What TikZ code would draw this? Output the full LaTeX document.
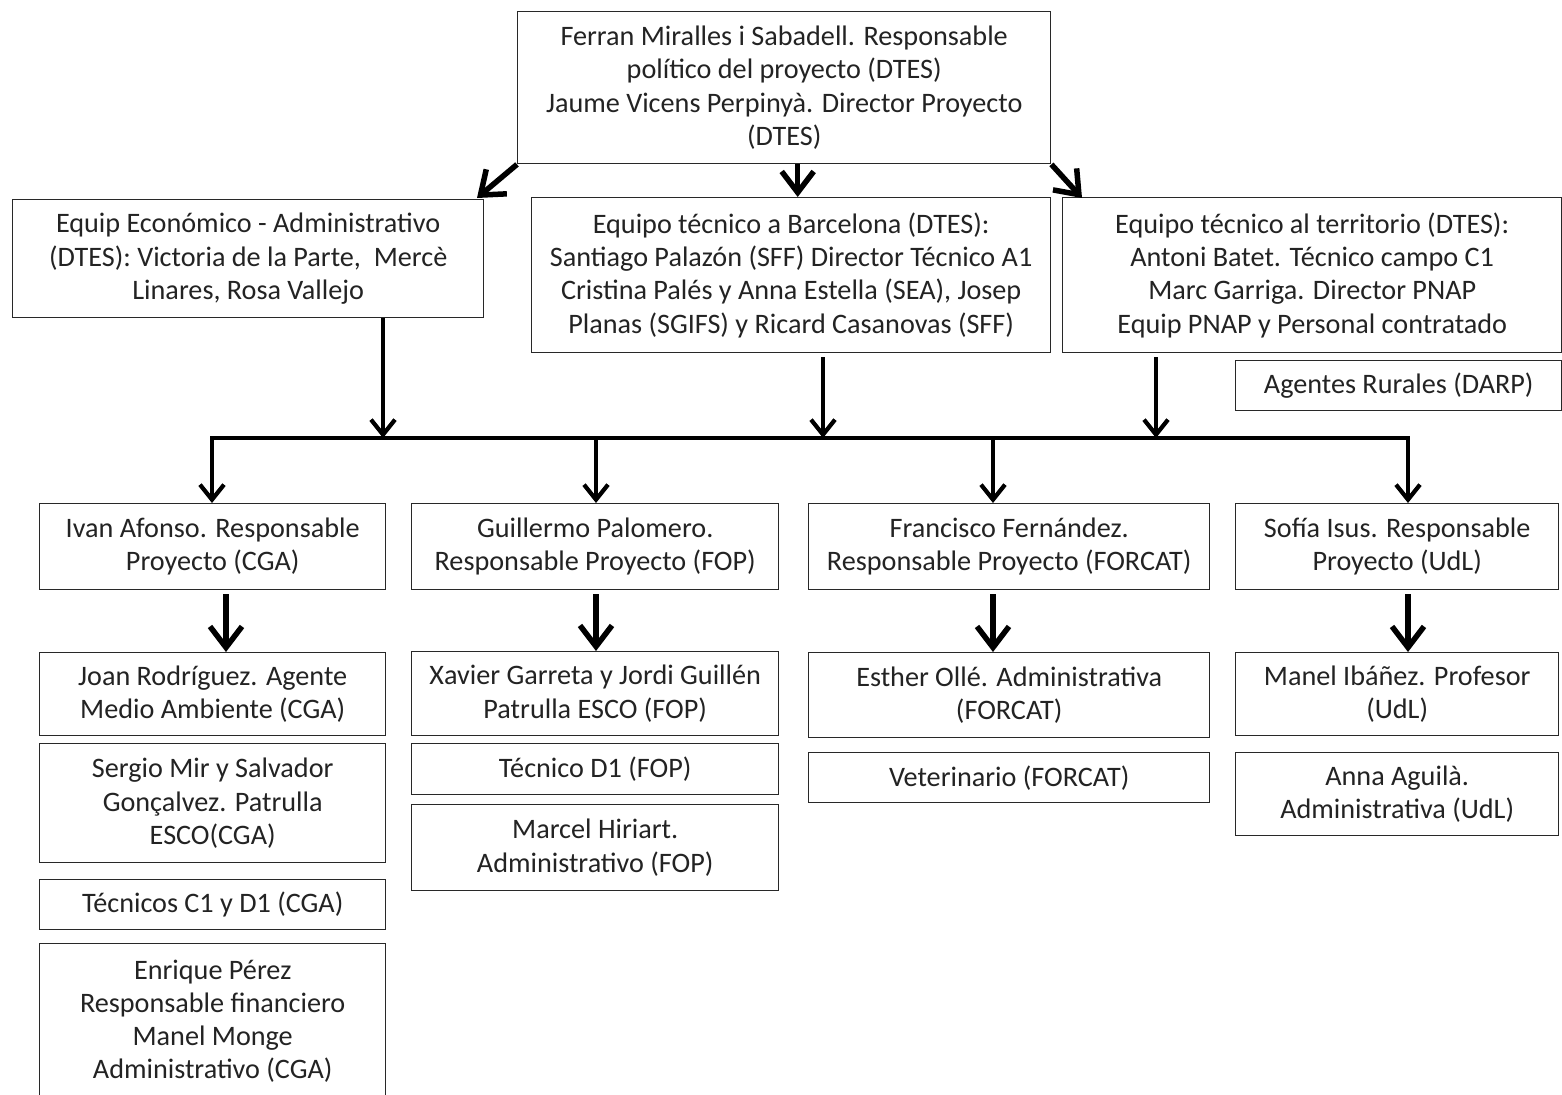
\documentclass[tikz,border=0pt]{standalone}
\usepackage{fontspec}
\setmainfont{Carlito}
\usetikzlibrary{arrows.meta}
\definecolor{txt}{RGB}{35,35,35}
\definecolor{frame}{RGB}{40,40,40}
\tikzset{
  box/.style={draw=frame, line width=1.4pt, fill=white, inner sep=0pt, anchor=north west,
    align=center, text=txt, font=\fontsize{28.2}{33.3}\selectfont},
  conn/.style={draw=black, line width=4.2pt, line cap=butt,
    -{Straight Barb[length=15pt, width=24pt, line width=4.2pt]}},
  thickconn/.style={draw=black, line width=5.5pt,
    -{Straight Barb[length=21pt, width=32pt, line width=5.5pt]}},
  busline/.style={draw=black, line width=4.6pt, line join=miter,
    {Straight Barb[length=15pt, width=24pt, line width=4.2pt]}-{Straight Barb[length=15pt, width=24pt, line width=4.2pt]}},
}
\newcommand{\bx}[6]{\node[box, minimum width=#4-#2, minimum height=#5-#3] (#1) at (#2,#3) {#6};}
\begin{document}
\begin{tikzpicture}[x=1pt, y=-1pt]
\useasboundingbox (0,0) rectangle (1562,1094);
\fill[white] (0,0) rectangle (1562,1094);
% top
\bx{top}{517}{11}{1050}{163}{Ferran Miralles i Sabadell. Responsable\\político del proyecto (DTES)\\Jaume\ Vicens Perpinyà. Director Proyecto\\(DTES)}
% row 2
\bx{eco}{12}{199}{483}{317}{Equip Económico - Administrativo\\(DTES): Victoria de la Parte,\ \ Mercè\\Linares, Rosa Vallejo}
\bx{bcn}{531}{197}{1050}{352}{Equipo técnico a Barcelona (DTES):\\Santiago Palazón (SFF) Director Técnico A1\\Cristina Palés y Anna Estella (SEA), Josep\\Planas (SGIFS) y Ricard Casanovas (SFF)}
\bx{ter}{1062}{197}{1561}{352}{Equipo técnico al territorio\ (DTES):\\Antoni\ Batet. Técnico campo C1\\Marc Garriga. Director PNAP\\Equip PNAP y Personal contratado}
\bx{agr}{1235}{360}{1561}{410}{Agentes Rurales (DARP)}
% row 3
\bx{cga}{39}{503}{385}{589}{Ivan Afonso. Responsable\\Proyecto (CGA)}
\bx{fop}{411}{503}{778}{589}{Guillermo Palomero.\\Responsable Proyecto (FOP)}
\bx{forcat}{808}{503}{1209}{589}{Francisco Fernández.\\Responsable Proyecto (FORCAT)}
\bx{udl}{1235}{503}{1558}{589}{Sofía Isus. Responsable\\Proyecto (UdL)}
% row 4, col 1
\bx{joan}{39}{652}{385}{735}{Joan Rodríguez. Agente\\Medio Ambiente (CGA)}
\bx{sergio}{39}{743}{385}{862}{Sergio Mir y Salvador\\Gonçalvez. Patrulla\\ESCO(CGA)}
\bx{tecc}{39}{879}{385}{929}{Técnicos C1 y D1 (CGA)}
\bx{enrique}{39}{943}{385}{1098}{Enrique\ Pérez\\Responsable financiero\\Manel Monge\\Administrativo (CGA)}
% col 2
\bx{xavier}{411}{651}{778}{735}{Xavier Garreta y Jordi Guillén\\Patrulla ESCO (FOP)}
\bx{tecd}{411}{743}{778}{794}{Técnico D1 (FOP)}
\bx{marcel}{411}{804}{778}{890}{Marcel Hiriart.\\Administrativo (FOP)}
% col 3
\bx{esther}{808}{652}{1209}{737}{Esther Ollé. Administrativa\\(FORCAT)}
\bx{vet}{808}{752}{1209}{802}{Veterinario\ (FORCAT)}
% col 4
\bx{manel}{1235}{652}{1558}{735}{Manel Ibáñez. Profesor\\(UdL)}
\bx{anna}{1235}{752}{1558}{835}{Anna Aguilà.\\Administrativa (UdL)}
% top arrows
\draw[thickconn] (top.south west) -- (477,198);
\draw[thickconn] (top.south -| bcn.north) ++(6.5,0) coordinate (tm) -- (bcn.north -| tm);
\draw[thickconn] (top.south east) -- (1082,198);
% bus
\coordinate (j1) at (383,438);
\coordinate (j2) at (823,438);
\coordinate (j3) at (1156,438);
\coordinate (busL) at (212,438);
\coordinate (busR) at (1408,438);
\coordinate (d2) at (596,438);
\coordinate (d3) at (993,438);
\draw[conn] (eco.south -| j1) -- (j1);
\draw[conn] (bcn.south -| j2) ++(0,4) -- (j2);
\draw[conn] (ter.south -| j3) ++(0,4) -- (j3);
\draw[busline] (cga.north -| busL) -- (busL) -- (busR) -- (udl.north -| busR);
\draw[conn] (d2) -- (fop.north -| d2);
\draw[conn] (d3) -- (forcat.north -| d3);
% row3 -> row4
\coordinate (k1) at (226,0);
\coordinate (k2) at (596,0);
\coordinate (k3) at (993,0);
\coordinate (k4) at (1408,0);
\draw[thickconn] (cga.south -| k1) ++(0,4) -- (joan.north -| k1);
\draw[thickconn] (fop.south -| k2) ++(0,4) -- (xavier.north -| k2);
\draw[thickconn] (forcat.south -| k3) ++(0,4) -- (esther.north -| k3);
\draw[thickconn] (udl.south -| k4) ++(0,4) -- (manel.north -| k4);
\end{tikzpicture}
\end{document}
